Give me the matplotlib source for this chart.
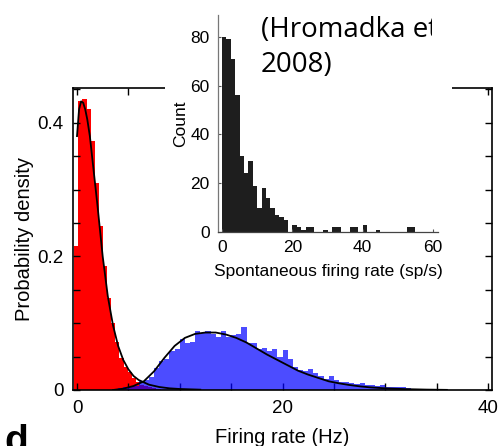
import matplotlib
matplotlib.use("Agg")
import matplotlib.pyplot as plt
from matplotlib.patches import Rectangle
from matplotlib.transforms import Bbox, TransformedBbox
import numpy as np

# ---- main panel: firing-rate distributions ----
# red histogram (bin width 0.4 Hz)
red_bin_width = 0.4
red_first_edge = -0.27
red_density = [0.215, 0.432, 0.435, 0.42, 0.372, 0.31, 0.245, 0.185, 0.138,
               0.1, 0.072, 0.048, 0.035, 0.027, 0.018, 0.012, 0.008, 0.006,
               0.004, 0.003, 0.002]

# blue histogram (bin width 0.5 Hz)
blue_bin_width = 0.5
blue_first_edge = 4.0
blue_density = [0.003, 0.004, 0.004, 0.006, 0.013, 0.015, 0.02, 0.033, 0.044,
                0.046, 0.058, 0.062, 0.077, 0.07, 0.072, 0.088, 0.086, 0.088,
                0.084, 0.08, 0.088, 0.08, 0.083, 0.084, 0.095, 0.071, 0.07,
                0.062, 0.063, 0.058, 0.061, 0.05, 0.06, 0.046, 0.034, 0.03,
                0.028, 0.031, 0.025, 0.021, 0.017, 0.021, 0.015, 0.012, 0.012,
                0.011, 0.009, 0.011, 0.007, 0.007, 0.006, 0.007, 0.005, 0.005,
                0.004, 0.004, 0.003, 0.002]

# fitted densities
red_fit_x = [0.0, 0.2, 0.4, 0.6, 0.8, 1.0, 1.25, 1.5, 1.75, 2.0, 2.5, 3.0,
             3.5, 4.0, 4.5, 5.0, 5.5, 6.0, 7.0, 8.0, 9.0, 10.0, 12.0]
red_fit_y = [0.38, 0.42, 0.432, 0.43, 0.42, 0.405, 0.38, 0.345, 0.31, 0.275,
             0.2, 0.14, 0.097, 0.066, 0.045, 0.031, 0.021, 0.015, 0.008,
             0.0045, 0.0025, 0.0015, 0.0005]

blue_fit_x = [3.5, 4.5, 5.5, 6.5, 7.5, 8.5, 9.5, 10.5, 11.5, 12.5, 13.5, 14.5,
              15.5, 16.5, 17.5, 18.5, 19.5, 20.5, 21.5, 22.5, 23.5, 24.5,
              25.5, 26.5, 27.5, 28.5, 30.0, 32.0, 34.0, 36.0]
blue_fit_y = [0.0, 0.002, 0.006, 0.013, 0.028, 0.048, 0.066, 0.078, 0.084,
              0.086, 0.086, 0.083, 0.078, 0.071, 0.062, 0.053, 0.045, 0.037,
              0.029, 0.023, 0.018, 0.013, 0.01, 0.0075, 0.0055, 0.004, 0.0025,
              0.0013, 0.0006, 0.0002]

main_xticks = [0, 5, 10, 15, 20, 25, 30, 35, 40]
main_xticklabels = ["0", "", "", "", "20", "", "", "", "40"]
main_yticks = [0, 0.05, 0.1, 0.15, 0.2, 0.25, 0.3, 0.35, 0.4, 0.45]
main_yticklabels = ["0", "", "", "", "0.2", "", "", "", "0.4", ""]

# ---- inset: spontaneous firing rate counts (bin width 1.25 sp/s) ----
inset_bin_width = 1.25
inset_counts = [80, 79, 71, 56, 31, 24, 29, 19, 10, 18, 14, 10, 7, 6, 5, 0,
                3, 2, 1, 2, 2, 0, 0, 1, 0, 2, 2, 0, 0, 2, 2, 0, 3, 0, 0, 1,
                0, 0, 0, 0, 0, 0, 2, 2, 0, 0, 0, 0]
inset_xticks = [0, 20, 40, 60]
inset_yticks = [0, 20, 40, 60, 80]

citation_lines = ["(Hromadka et", "2008)"]

W, H = 499, 446
DPI = 100
fig = plt.figure(figsize=(W / DPI, H / DPI), dpi=DPI)
fig.patch.set_facecolor("white")

sans = ["Liberation Sans", "DejaVu Sans"]


def px_axes(left, top, right, bottom):
    return [left / W, 1 - bottom / H, (right - left) / W, (bottom - top) / H]


ax = fig.add_axes(px_axes(73, 88, 492, 390))
ax.set_zorder(0)

red_centers = red_first_edge + red_bin_width * (np.arange(len(red_density)) + 0.5)
blue_centers = blue_first_edge + blue_bin_width * (np.arange(len(blue_density)) + 0.5)

ax.bar(red_centers, red_density, width=red_bin_width, color="#ff0000",
       linewidth=0, zorder=1)
ax.bar(blue_centers, blue_density, width=blue_bin_width, color="#0000ff",
       alpha=0.7, linewidth=0, zorder=2)
ax.plot(red_fit_x, red_fit_y, color="black", lw=1.3, zorder=3)
ax.plot(blue_fit_x, blue_fit_y, color="black", lw=1.3, zorder=3)

ax.set_xlim(-0.39, 40.39)
ax.set_ylim(0, 0.452)
ax.set_xticks(main_xticks)
ax.set_xticklabels(main_xticklabels)
ax.set_yticks(main_yticks)
ax.set_yticklabels(main_yticklabels)
ax.tick_params(direction="in", top=True, right=True, length=5, width=1,
               labelsize=13.5, pad=7)
for lbl in ax.get_xticklabels() + ax.get_yticklabels():
    lbl.set_family(sans)
for sp in ax.spines.values():
    sp.set_linewidth(1.2)
ax.set_xlabel("Firing rate (Hz)", fontsize=14.5, family=sans, labelpad=8)
ax.set_ylabel("Probability density", fontsize=14.5, family=sans, labelpad=2)

# white backing behind the inset
fig.add_artist(Rectangle((165 / W, 1 - 292 / H), (452 - 165) / W, 292 / H,
                         transform=fig.transFigure, facecolor="white",
                         edgecolor="none", zorder=1))

ins = fig.add_axes(px_axes(218, 15, 438, 232))
ins.set_zorder(2)
ins.patch.set_alpha(0)
inset_centers = inset_bin_width * (np.arange(len(inset_counts)) + 0.5)
ins.bar(inset_centers, inset_counts, width=inset_bin_width, color="#1e1e1e",
        linewidth=0)
ins.set_xlim(-1.14, 61.4)
ins.set_ylim(0, 89)
ins.set_xticks(inset_xticks)
ins.set_yticks(inset_yticks)
ins.tick_params(direction="in", length=2.5, width=0.8, labelsize=12.5, pad=6,
                color="#555555")
for lbl in ins.get_xticklabels() + ins.get_yticklabels():
    lbl.set_family(sans)
for s in ("top", "right"):
    ins.spines[s].set_visible(False)
ins.spines["left"].set_color("#777777")
ins.spines["bottom"].set_color("#444444")
ins.spines["left"].set_linewidth(0.9)
ins.spines["bottom"].set_linewidth(0.9)
ins.set_xlabel("Spontaneous firing rate (sp/s)", fontsize=12.5, family=sans,
               labelpad=6)
ins.set_ylabel("Count", fontsize=12.5, family=sans, labelpad=2)

# citation, clipped at the right edge of its box
cite_clip = TransformedBbox(Bbox([[0, 0], [432 / W, 1]]), fig.transFigure)
for line, baseline_px in zip(citation_lines, (37, 72)):
    t = fig.text(261 / W, 1 - baseline_px / H, line, fontsize=20,
                 family=["Open Sans", "DejaVu Sans"], va="baseline",
                 ha="left", zorder=3)
    t.set_clip_box(cite_clip)
    t.set_clip_on(True)

# panel letter at the lower-left edge
fig.text(4 / W, 1 - 424 / H, "d", fontsize=28, fontweight="bold",
         family=sans, va="top", ha="left")

fig.savefig("out.png", dpi=DPI, facecolor="white")
